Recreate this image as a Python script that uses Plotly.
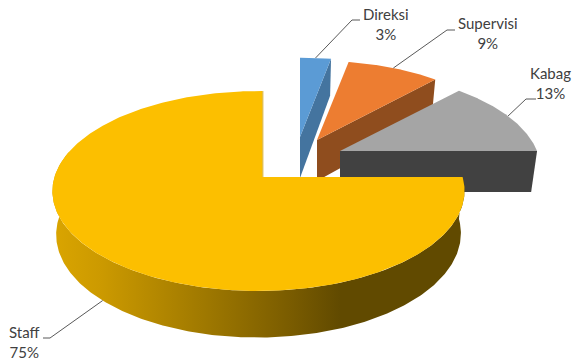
import numpy as np
import plotly.graph_objects as go

# Chart data: staff composition by position
categories = ["Direksi", "Supervisi", "Kabag", "Staff"]
values = [3, 9, 13, 75]
top_colors = ["#5B9BD5", "#ED7D31", "#A5A5A5", "#FCBF00"]
side_colors = ["#44749F", "#8F4D1E", "#414141", None]

# How far each slice is pulled away from the pie centre, in pixels
pull_x = [38, 55, 78, 0]
pull_y = [40, 37, 26, 0]

# Per-slice projection settings for the tilted disc
slice_radius = [0.966, 0.966, 0.966, 1.0]
persp_y = [0.2, 0.2, 0.2, 0.14]
persp_x = [0.0, 0.0, 0.0, 0.017]
depth = [41.0, 41.0, 41.0, 42.5]
floor_shrink = [0.97, 0.97, 0.97, 0.982]
CX, CY = 262.0, 177.0
SCALE_X, SCALE_Y = 204.0, 98.0


def project(i, theta, radius=None, floor=False):
    """Map an angle (clockwise from north, radians) on slice i to pixels."""
    r = slice_radius[i] if radius is None else radius
    X, Y = r * np.sin(theta), r * np.cos(theta)
    w = 1 + persp_y[i] * Y + persp_x[i] * X
    dx, dy = SCALE_X * X / w, -SCALE_Y * Y / w
    px, py = CX + pull_x[i], CY - pull_y[i]
    if floor:
        return px + dx * floor_shrink[i], py + dy + depth[i] / w ** 0.6
    return px + dx, py + dy


def polygon(xs, ys, color):
    return go.Scatter(x=xs, y=ys, mode="lines", fill="toself", fillcolor=color,
                      line=dict(width=0), hoverinfo="skip", showlegend=False)


fig = go.Figure()
shares = np.array(values, dtype=float) / sum(values)
edges = np.concatenate([[0.0], np.cumsum(shares)]) * 2 * np.pi

# Pulled slices, back to front: cut wall first, then the top face
for i in range(3):
    a0, a1 = edges[i], edges[i + 1]
    ax, ay = project(i, 0.0, radius=0.0)
    bx, by = project(i, 0.0, radius=0.0, floor=True)
    ex, ey = project(i, a1)
    fx, fy = project(i, a1, floor=True)
    fig.add_trace(polygon([ax, ex, fx, bx, ax], [ay, ey, fy, by, ay], side_colors[i]))
    rx, ry = project(i, np.linspace(a0, a1, 160))
    fig.add_trace(polygon(np.r_[ax, rx, ax], np.r_[ay, ry, ay], top_colors[i]))

# Staff slice: shaded outer wall, then the top face
a0, a1 = edges[3], edges[4]
theta_wall = np.linspace(a0, np.deg2rad(285), 300)
tx, ty = project(3, theta_wall)
fx, fy = project(3, theta_wall, floor=True)
wall_x = np.r_[tx, fx[::-1], tx[0]]
wall_y = np.r_[ty, fy[::-1], ty[0]]
lo, hi = wall_x.min(), wall_x.max()
shade_px = [lo, 100, 200, 290, 340, hi]
shade = ["#DAA500", "#CC9A00", "#A17A00", "#7A5C00", "#614A00", "#614A00"]
fig.add_trace(go.Scatter(
    x=wall_x, y=wall_y, mode="lines", fill="toself", line=dict(width=0),
    fillgradient=dict(type="horizontal",
                      colorscale=[[(p - lo) / (hi - lo), c] for p, c in zip(shade_px, shade)]),
    hoverinfo="skip", showlegend=False))

# Sliver of the inner cut wall showing beside the top face
ax, ay = project(3, 0.0, radius=0.0)
ex, ey = project(3, a1)
fig.add_trace(go.Scatter(x=[ax + 0.8, ex + 0.8], y=[ay, ey], mode="lines",
                         line=dict(color="#D8A400", width=1),
                         hoverinfo="skip", showlegend=False))

rx, ry = project(3, np.linspace(a0, a1, 400))
fig.add_trace(polygon(np.r_[ax, rx, ax], np.r_[ay, ry, ay], top_colors[3]))

# Leader lines run from the rim through an elbow to the label
elbow_x = [352, 447, 526, 50]
elbow_y = [20, 30, 99, 338]
tail_x = [360, 455, 536, 43]
label_x = [386, 488, 550, 24]
label_y = [24, 33, 83, 342]
for i in range(4):
    mid = (edges[i] + edges[i + 1]) / 2
    sx, sy = project(i, mid, floor=(i == 3))
    fig.add_trace(go.Scatter(x=[sx, elbow_x[i], tail_x[i]], y=[sy, elbow_y[i], elbow_y[i]],
                             mode="lines", line=dict(color="#595959", width=1),
                             hoverinfo="skip", showlegend=False))
    fig.add_annotation(x=label_x[i], y=label_y[i], text=f"{categories[i]}<br>{values[i]}%",
                       showarrow=False, font=dict(family="Lato", size=15, color="#404040"),
                       align="center", xanchor="center", yanchor="middle")

fig.update_layout(
    width=572, height=360, margin=dict(l=0, r=0, t=0, b=0),
    paper_bgcolor="white", plot_bgcolor="white", showlegend=False,
    xaxis=dict(range=[0, 572], visible=False, fixedrange=True),
    yaxis=dict(range=[360, 0], visible=False, fixedrange=True),
)
fig.write_html("out.html", config=dict(displayModeBar=False))
